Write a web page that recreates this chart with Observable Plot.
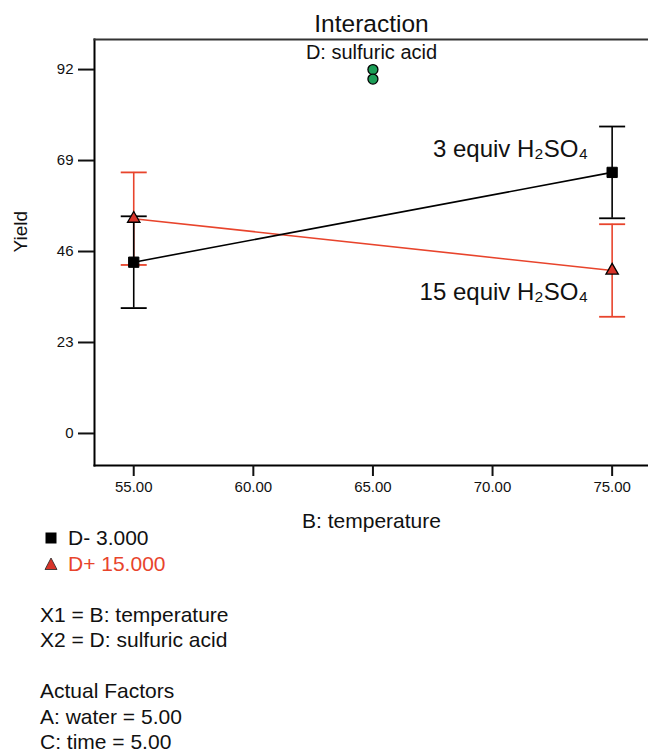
<!DOCTYPE html>
<html>
<head>
<meta charset="utf-8">
<script src="https://cdn.jsdelivr.net/npm/d3@7"></script>
<script src="https://cdn.jsdelivr.net/npm/@observablehq/plot@0.6"></script>
<style>
  body { margin: 0; background: #fff; font-family: "Liberation Sans", Arial, sans-serif; }
  #wrap { position: relative; width: 648px; height: 753px; overflow: hidden; }
  #chart svg { display: block; }
  #legend { position: absolute; left: 40px; top: 525px; font-size: 21px; line-height: 25.5px; color: #111; white-space: nowrap; }
  #legend .sym { display: inline-block; width: 28px; }
</style>
</head>
<body>
<div id="wrap">
  <div id="chart"></div>
  <div id="legend"></div>
</div>
<script>
// ---- data ----
const temperatures = [55, 75];
const lowAcidYield = [43.3, 66.0];      // D- 3.000 (3 equiv H2SO4)
const lowAcidHalfLSD = [11.6, 11.6];
const highAcidYield = [54.3, 41.2];     // D+ 15.000 (15 equiv H2SO4)
const highAcidHalfLSD = [11.7, 11.7];
const designTemps = [65, 65];
const designYields = [92.0, 89.6];
const seriesNames = ["D- 3.000", "D+ 15.000"];
const seriesColors = ["#000000", "#e8442c"];
const markerFills = ["#000000", "#d8342a"];
const yTicks = [0, 23, 46, 69, 92];
const xTicks = [55, 60, 65, 70, 75];
const annotationLabels = ["3 equiv H\u2082SO\u2084", "15 equiv H\u2082SO\u2084"];
const annotationTemps = [75, 75];
const annotationYields = [71.9, 35.8];
const factorLines = ["X1 = B: temperature", "X2 = D: sulfuric acid", "", "Actual Factors", "A: water = 5.00", "C: time = 5.00"];

// ---- build rows ----
const rows = [];
temperatures.forEach((t, i) => {
  rows.push({series: seriesNames[0], x: t, y: lowAcidYield[i], lo: lowAcidYield[i] - lowAcidHalfLSD[i], hi: lowAcidYield[i] + lowAcidHalfLSD[i], color: seriesColors[0], fill: markerFills[0]});
});
temperatures.forEach((t, i) => {
  rows.push({series: seriesNames[1], x: t, y: highAcidYield[i], lo: highAcidYield[i] - highAcidHalfLSD[i], hi: highAcidYield[i] + highAcidHalfLSD[i], color: seriesColors[1], fill: markerFills[1]});
});
const black = rows.filter(d => d.series === seriesNames[0]);
const red = rows.filter(d => d.series === seriesNames[1]);
const design = designTemps.map((t, i) => ({x: t, y: designYields[i]}));
const notes = annotationLabels.map((l, i) => ({label: l, x: annotationTemps[i], y: annotationYields[i]}));

const capSymbol = {
  draw(context, size) {
    const r = Math.sqrt(size / Math.PI);
    context.moveTo(-r, 0);
    context.lineTo(r, 0);
  }
};

const whiskers = (data) => [
  Plot.ruleX(data, {x: "x", y1: "lo", y2: "hi", stroke: d => d.color, strokeWidth: 1.6}),
  Plot.dot(data, {x: "x", y: "hi", symbol: capSymbol, r: 13, stroke: d => d.color, strokeWidth: 1.8}),
  Plot.dot(data, {x: "x", y: "lo", symbol: capSymbol, r: 13, stroke: d => d.color, strokeWidth: 1.8})
];

const sans = "'Liberation Sans', Arial, sans-serif";
const fmtX = d3.format(".2f");

const chart = Plot.plot({
  width: 648,
  height: 540,
  marginLeft: 94,
  marginRight: 0,
  marginTop: 39,
  marginBottom: 75,
  style: {fontFamily: sans, fontSize: "14px", color: "#111", background: "transparent"},
  x: {domain: [53.36, 76.52], label: null},
  y: {domain: [-8.1, 99.6], label: null},
  marks: [
    Plot.frame({anchor: "left", stroke: "#000", strokeWidth: 2}),
    Plot.frame({anchor: "top", stroke: "#333", strokeWidth: 2}),
    Plot.frame({anchor: "bottom", stroke: "#000", strokeWidth: 2}),
    // tick marks only; labels drawn below as text marks at a set size
    Plot.axisX({ticks: xTicks, tickFormat: () => "", tickSize: 11, strokeWidth: 2, label: null}),
    Plot.axisY({ticks: yTicks, tickFormat: () => "", tickSize: 16, strokeWidth: 2, label: null}),
    Plot.text(xTicks, {x: d => d, text: d => fmtX(d), frameAnchor: "bottom", lineAnchor: "top", dy: 16, fontSize: 15, fill: "#111", fontFamily: sans}),
    Plot.text(yTicks, {y: d => d, text: d => String(d), frameAnchor: "left", textAnchor: "end", lineAnchor: "middle", dx: -21, fontSize: 15, fill: "#111", fontFamily: sans}),
    ...whiskers(red),
    ...whiskers(black),
    Plot.line(red, {x: "x", y: "y", stroke: seriesColors[1], strokeWidth: 1.6}),
    Plot.line(black, {x: "x", y: "y", stroke: seriesColors[0], strokeWidth: 1.6}),
    Plot.dot(black, {x: "x", y: "y", symbol: "square", r: 5.8, fill: "fill", stroke: "#000", strokeWidth: 1}),
    Plot.dot(red, {x: "x", y: "y", symbol: "triangle", r: 4.6, fill: "fill", stroke: "#000", strokeWidth: 1.3}),
    Plot.dot(design, {x: "x", y: "y", r: 5, fill: "#1c9e57", stroke: "#000", strokeWidth: 1.3}),
    Plot.text(notes, {x: "x", y: "y", text: "label", textAnchor: "end", lineAnchor: "middle", dx: -24, fontSize: 24, fill: "#111", fontFamily: sans}),
    Plot.text(["Interaction"], {frameAnchor: "top", lineAnchor: "middle", dy: -15, fontSize: 24.5, fill: "#111", fontFamily: sans}),
    Plot.text(["D: sulfuric acid"], {frameAnchor: "top", lineAnchor: "middle", dy: 13.5, fontSize: 20, fill: "#111", fontFamily: sans}),
    Plot.text(["B: temperature"], {frameAnchor: "bottom", lineAnchor: "middle", dy: 56, fontSize: 21, fill: "#111", fontFamily: sans}),
    Plot.text(["Yield"], {frameAnchor: "left", lineAnchor: "middle", dx: -74, rotate: -90, fontSize: 19, fill: "#111", fontFamily: sans})
  ]
});
document.getElementById("chart").appendChild(chart);

// ---- legend / factor text below the chart ----
const legend = document.getElementById("legend");
const symSvg = (kind, fill) => kind === "square"
  ? `<svg width="22" height="14" viewBox="-11 -7 22 14" style="vertical-align:0px"><rect x="-5.5" y="-5.5" width="11" height="11" fill="${fill}"/></svg>`
  : `<svg width="22" height="14" viewBox="-11 -7 22 14" style="vertical-align:0px"><path d="M0,-6L6,5.5L-6,5.5Z" fill="${fill}" stroke="#222" stroke-width="0.8"/></svg>`;
seriesNames.forEach((name, i) => {
  const div = document.createElement("div");
  div.innerHTML = `<span class="sym">${symSvg(i === 0 ? "square" : "triangle", markerFills[i])}</span><span style="color:${i === 0 ? '#111' : seriesColors[1]}">${name}</span>`;
  legend.appendChild(div);
});
legend.appendChild(Object.assign(document.createElement("div"), {innerHTML: "&nbsp;"}));
factorLines.forEach(t => {
  const div = document.createElement("div");
  div.innerHTML = t === "" ? "&nbsp;" : t;
  legend.appendChild(div);
});
</script>
</body>
</html>
